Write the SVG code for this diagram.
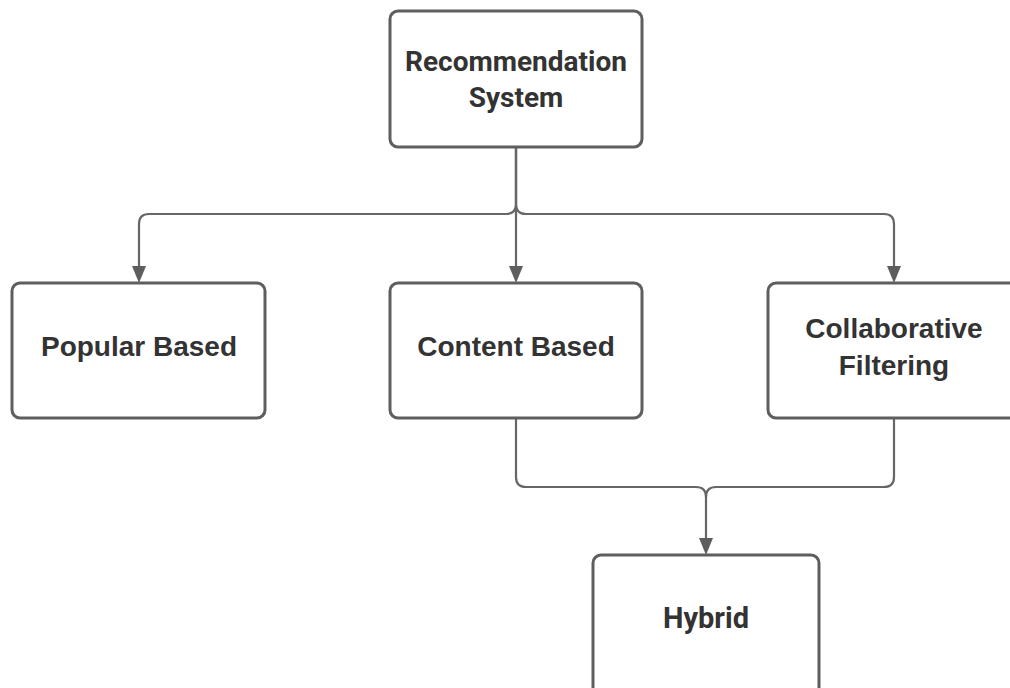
<svg xmlns="http://www.w3.org/2000/svg" width="1010" height="688" viewBox="0 0 1010 688">
<style>
.box{fill:#fff;stroke:#5e5e5e;stroke-width:3}
.lbl{font-family:"Liberation Sans",Arial,sans-serif;font-weight:bold;font-size:28px;fill:#333;text-anchor:middle}
.rb{font-family:Roboto,"Liberation Sans",sans-serif}
.con{fill:none;stroke:#666;stroke-width:2.2}
.ah{fill:#5e5e5e}
</style>
<rect width="1010" height="688" fill="#fff"/>
<g id="connectors">
<path class="con" d="M516,147 V204 Q516,214 506,214 H149 Q139,214 139,224 V268"/>
<path class="con" d="M516,147 V204 Q516,214 526,214 H884 Q894,214 894,224 V268"/>
<path class="con" d="M516,147 V268"/>
<path class="con" d="M516,418 V477 Q516,487 526,487 H696 Q706,487 706,497 V540"/>
<path class="con" d="M894,418 V477 Q894,487 884,487 H716 Q706,487 706,497"/>
<path class="ah" d="M132,266 L146,266 L139,283 Z"/>
<path class="ah" d="M509,266 L523,266 L516,283 Z"/>
<path class="ah" d="M887,266 L901,266 L894,283 Z"/>
<path class="ah" d="M699,538 L713,538 L706,555 Z"/>
</g>
<g id="recommendation">
<rect class="box" x="390" y="11" width="252" height="136" rx="8"/>
<text class="lbl rb" x="516" y="71">Recommendation</text>
<text class="lbl rb" x="516" y="107">System</text>
</g>
<g id="popular">
<rect class="box" x="12" y="283" width="253" height="135" rx="8"/>
<text class="lbl" x="139" y="356">Popular Based</text>
</g>
<g id="content">
<rect class="box" x="390" y="283" width="252" height="135" rx="8"/>
<text class="lbl" x="516" y="356">Content Based</text>
</g>
<g id="collaborative">
<rect class="box" x="768" y="283" width="252" height="135" rx="8"/>
<text class="lbl" x="894" y="338">Collaborative</text>
<text class="lbl" x="894" y="375">Filtering</text>
</g>
<g id="hybrid">
<rect class="box" x="593" y="555" width="226" height="140" rx="8"/>
<text class="lbl rb" x="706" y="628" style="font-size:29px">Hybrid</text>
</g>
</svg>
